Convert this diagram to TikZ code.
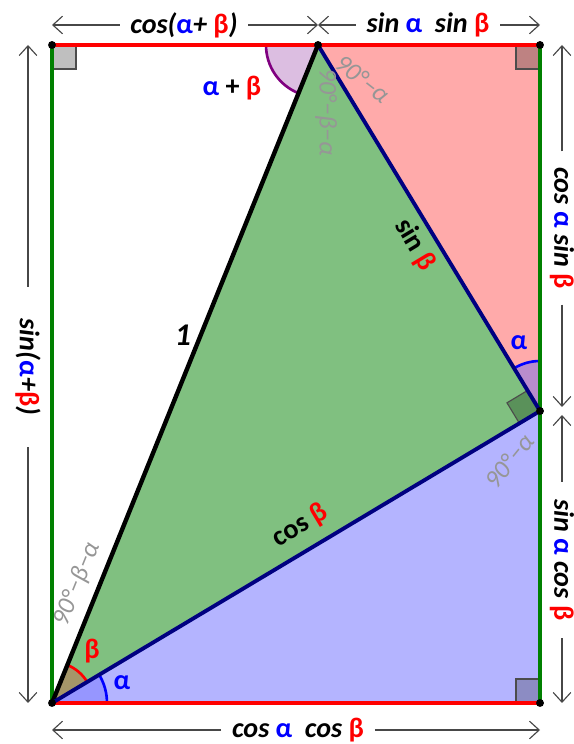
\documentclass[tikz,border=0pt]{standalone}
\usepackage{fontspec}
\setmainfont{Carlito}
\usetikzlibrary{arrows.meta,positioning,calc}
\definecolor{sidered}{RGB}{255,0,0}
\definecolor{sidegreen}{RGB}{0,128,0}
\definecolor{sidenavy}{RGB}{0,0,128}
\definecolor{trigreen}{RGB}{128,192,128}
\definecolor{tripink}{RGB}{255,170,170}
\definecolor{triblue}{RGB}{180,180,255}
\definecolor{greekblue}{RGB}{0,0,255}
\definecolor{greekred}{RGB}{255,0,0}
\definecolor{anglegray}{RGB}{150,150,150}
\definecolor{arcpurple}{RGB}{128,0,128}
\definecolor{lilac}{RGB}{220,190,225}
\newcommand{\galpha}{{\color{greekblue}\upshape α}}
\newcommand{\gbeta}{{\color{greekred}\upshape β}}

\begin{document}
\begin{tikzpicture}[x=0.02cm, y=0.02cm,
    side/.style={line width=2.2pt, line cap=round},
    dimarrow/.style={draw=black!72, line width=0.65pt, -{Straight Barb[length=5.5pt,width=10pt]}},
    dimlabel/.style={font=\fontsize{16}{18}\selectfont\bfseries\itshape, inner ysep=0pt, inner xsep=6pt},
    sidelabel/.style={font=\fontsize{16}{18}\selectfont\bfseries},
    graylabel/.style={text=anglegray, font=\fontsize{14.5}{16}\selectfont\itshape, inner sep=1pt},
    rightmark/.style={draw=black!70, line width=0.65pt},
    dot/.style={circle, fill=black, inner sep=0pt, minimum size=4.5pt}]
  \useasboundingbox (0,0) rectangle (574,744);
  % corners of the rectangle and the triangle
  \coordinate (O) at (52,41);
  \coordinate (B) at (540,41);
  \coordinate (A) at (52,699);
  \coordinate (C) at (540,699);
  \coordinate (P) at (318,699);
  \coordinate (Q) at (540,333);

  % the three coloured triangles
  \fill[trigreen] (O) -- (P) -- (Q) -- cycle;
  \fill[tripink] (P) -- (C) -- (Q) -- cycle;
  \fill[triblue] (O) -- (B) -- (Q) -- cycle;

  % angle sectors
  \fill[lilac] (P) -- ++(180:52) arc[start angle=180, end angle=248, radius=52] -- cycle;
  \draw[arcpurple, line width=1.5pt] (P) ++(180:52) arc[start angle=180, end angle=248, radius=52];
  \fill[color={rgb,255:red,150;green,150;blue,255}] (O) -- ++(0:55) arc[start angle=0, end angle=30.9, radius=55] -- cycle;
  \draw[greekblue, line width=1.5pt] (O) ++(0:55) arc[start angle=0, end angle=30.9, radius=55];
  \fill[color={rgb,255:red,165;green,150;blue,105}] (O) -- ++(30.9:41) arc[start angle=30.9, end angle=68, radius=41] -- cycle;
  \draw[greekred, line width=1.5pt] (O) ++(30.9:41) arc[start angle=30.9, end angle=68, radius=41];
  \fill[color={rgb,255:red,185;green,140;blue,205}] (Q) -- ++(90:50) arc[start angle=90, end angle=121.2, radius=50] -- cycle;
  \draw[greekblue, line width=1.5pt] (Q) ++(90:50) arc[start angle=90, end angle=121.2, radius=50];

  % right angle marks
  \filldraw[rightmark, fill=black!25] (A) rectangle ++(24,-24);
  \filldraw[rightmark, fill={rgb,255:red,190;green,130;blue,130}] (C) rectangle ++(-24,-24);
  \filldraw[rightmark, fill={rgb,255:red,140;green,140;blue,195}] (B) rectangle ++(-24,24);
  \filldraw[rightmark, fill={rgb,255:red,90;green,145;blue,90}] (Q) -- ++(210.9:24) -- ++(121.2:24) -- ++(30.9:24) -- cycle;

  % sides
  \draw[side, sidered] (A) -- (C);
  \draw[side, sidered] (O) -- (B);
  \draw[side, sidegreen] (O) -- (A);
  \draw[side, sidegreen] (B) -- (C);
  \draw[side, black, line width=2.5pt] (O) -- (P);
  \draw[side, sidenavy] (P) -- (Q) -- (O);
  \foreach \p in {O,A,B,C,P,Q}
    \node[dot] (dot\p) at (\p) {};

  % angle and side labels
  \node[sidelabel] (apb) at (232,656) {\galpha\ + \gbeta};
  \node[graylabel, rotate=-90] (gPa) at (326,632) {90°−β−α};
  \node[graylabel, rotate=-38] (gPb) at (363,665) {90°−α};
  \node[graylabel, rotate=51] (gQ) at (509,283) {90°−α};
  \node[graylabel, rotate=68] (gO) at (77,160) {90°−β−α};
  \node[sidelabel, font=\fontsize{18}{20}\selectfont\bfseries\itshape] (one) at (183,409) {1};
  \node[sidelabel, rotate=-59] (sb) at (415,499) {sin \gbeta};
  \node[sidelabel, rotate=31] (cb) at (300,218) {cos \gbeta};
  \node[sidelabel] (bO) at (92,93) {\gbeta};
  \node[sidelabel] (aO) at (122,61) {\galpha};
  \node[sidelabel] (aQ) at (519,401) {\galpha};

  % dimension labels
  \node[dimlabel] (cs) at (184,719) {cos(\galpha+ \gbeta)};
  \node[dimlabel] (ss) at (428,719) {sin \galpha\ \ sin \gbeta};
  \node[dimlabel] (cc) at (298,14) {cos \galpha\ \ cos \gbeta};
  \node[dimlabel, rotate=-90, inner xsep=18pt] (sS) at (28,377) {sin(\galpha+\gbeta)};
  \node[dimlabel, rotate=-90, inner xsep=9pt] (cS) at (562,516) {cos \galpha\ sin \gbeta};
  \node[dimlabel, rotate=-90, inner xsep=10pt] (sC) at (562,184) {sin \galpha\ cos \gbeta};

  % dimension arrows
  \draw[dimarrow] (cs) -- (cs -| A);
  \draw[dimarrow] (cs) -- (cs -| P);
  \draw[dimarrow] (ss) -- (ss -| P);
  \draw[dimarrow] (ss) -- (ss -| C);
  \draw[dimarrow] (cc) -- (cc -| O);
  \draw[dimarrow] (cc) -- (cc -| B);
  \draw[dimarrow] (sS) -- (sS |- A);
  \draw[dimarrow] (sS) -- (sS |- O);
  \draw[dimarrow] (cS) -- (cS |- C);
  \draw[dimarrow] (cS) -- ($(cS |- Q)+(0,4)$);
  \draw[dimarrow] (sC) -- ($(sC |- Q)+(0,-4)$);
  \draw[dimarrow] (sC) -- (sC |- B);
\end{tikzpicture}
\end{document}
